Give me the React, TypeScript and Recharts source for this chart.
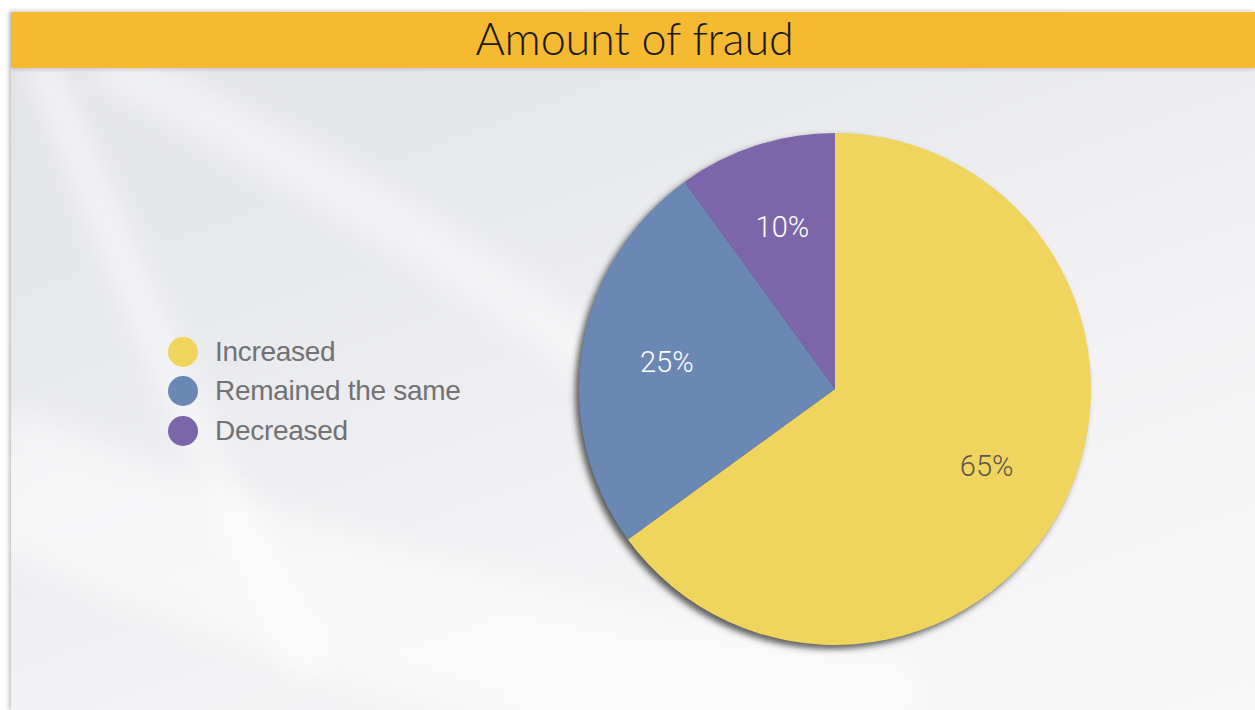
import React from "react";
import { PieChart, Pie, Cell } from "recharts";

const categories = ["Increased", "Remained the same", "Decreased"];
const values = [65, 25, 10];
const sliceColors = ["#EFD45E", "#6B88B5", "#7C65A9"];
const labelColors = ["#5A5552", "#FFFFFF", "#FFFFFF"];
const title = "Amount of fraud";

const data = categories.map((name, i) => ({ name, value: values[i] }));
const total = values.reduce((a, b) => a + b, 0);
const shadowData = [{ name: "shadow", value: total }];

const RAD = Math.PI / 180;

const renderLabel = (props: any) => {
  const { cx, cy, midAngle, outerRadius, index, value } = props;
  const r = outerRadius * 0.665;
  const x = cx + r * Math.cos(-midAngle * RAD);
  const y = cy + r * Math.sin(-midAngle * RAD);
  return (
    <text
      x={x}
      y={y}
      fill={labelColors[index]}
      textAnchor="middle"
      dominantBaseline="central"
      fontFamily="Roboto, 'Liberation Sans', sans-serif"
      fontWeight={300}
      fontSize={29}
    >
      {`${value}%`}
    </text>
  );
};

function LegendBlock() {
  return (
    <div
      style={{
        position: "absolute",
        left: 167,
        top: 332,
        display: "flex",
        flexDirection: "column",
      }}
    >
      {categories.map((name, i) => (
        <div
          key={name}
          style={{ display: "flex", alignItems: "center", height: 39.5 }}
        >
          <svg width={32} height={32} style={{ marginRight: 16 }}>
            <circle cx={16} cy={16} r={15} fill={sliceColors[i]} />
          </svg>
          <span
            style={{
              fontFamily: "'Liberation Sans', Arial, sans-serif",
              fontSize: 28,
              color: "#727274",
              letterSpacing: -0.3,
            }}
          >
            {name}
          </span>
        </div>
      ))}
    </div>
  );
}

export default function App() {
  return (
    <div
      style={{
        position: "absolute",
        left: 0,
        top: 0,
        width: 1255,
        height: 710,
        background: "#ffffff",
        overflow: "hidden",
      }}
    >
      <div
        style={{
          position: "absolute",
          left: 11,
          top: 11,
          width: 1244,
          height: 699,
          background:
            "linear-gradient(160deg, #e2e3e7 0%, #e9eaed 35%, #f3f3f5 65%, #f9f8f9 100%)",
          boxShadow: "-2px 0 4px rgba(0,0,0,0.25)",
          overflow: "hidden",
        }}
      >
        <svg
          width={1244}
          height={699}
          style={{ position: "absolute", left: 0, top: 0 }}
        >
          <defs>
            <filter id="soft" x="-50%" y="-50%" width="200%" height="200%">
              <feGaussianBlur stdDeviation="14" />
            </filter>
          </defs>
          <path
            d="M 30 50 C 100 220, 170 400, 300 660"
            stroke="#ffffff"
            strokeOpacity={0.55}
            strokeWidth={30}
            fill="none"
            filter="url(#soft)"
          />
          <path
            d="M 90 50 C 250 130, 430 230, 600 360"
            stroke="#ffffff"
            strokeOpacity={0.45}
            strokeWidth={50}
            fill="none"
            filter="url(#soft)"
          />
          <path
            d="M -20 460 C 200 560, 500 660, 900 720"
            stroke="#ffffff"
            strokeOpacity={0.5}
            strokeWidth={140}
            fill="none"
            filter="url(#soft)"
          />
        </svg>
      </div>
      <div
        style={{
          position: "absolute",
          left: 11,
          top: 12,
          width: 1244,
          height: 56,
          background: "#F6B932",
          boxShadow: "0 2px 3px rgba(0,0,0,0.12)",
          display: "flex",
          alignItems: "center",
          justifyContent: "center",
          fontFamily: "Lato, 'Open Sans', sans-serif",
          fontWeight: 300,
          fontSize: 45,
          color: "#1a1a1a",
          letterSpacing: -0.2,
        }}
      >
        <span style={{ marginLeft: 3, marginTop: -4 }}>{title}</span>
      </div>
      <LegendBlock />
      <div style={{ position: "absolute", left: 0, top: 0 }}>
        <PieChart
          width={1255}
          height={710}
          margin={{ top: 0, right: 0, bottom: 0, left: 0 }}
        >
          <defs>
            <filter id="pieShadow" x="-20%" y="-20%" width="140%" height="140%">
              <feGaussianBlur stdDeviation="3" />
            </filter>
          </defs>
          <Pie
            data={shadowData}
            dataKey="value"
            cx={831}
            cy={393}
            outerRadius={256}
            startAngle={90}
            endAngle={-270}
            stroke="none"
            fill="#3a3a3a"
            fillOpacity={0.8}
            style={{ filter: "url(#pieShadow)" }}
            isAnimationActive={false}
            legendType="none"
          />
          <Pie
            data={data}
            dataKey="value"
            nameKey="name"
            cx={835}
            cy={389}
            outerRadius={256}
            startAngle={90}
            endAngle={-270}
            stroke="none"
            labelLine={false}
            label={renderLabel}
            isAnimationActive={false}
          >
            {data.map((d, i) => (
              <Cell key={d.name} fill={sliceColors[i]} />
            ))}
          </Pie>
        </PieChart>
      </div>
    </div>
  );
}
